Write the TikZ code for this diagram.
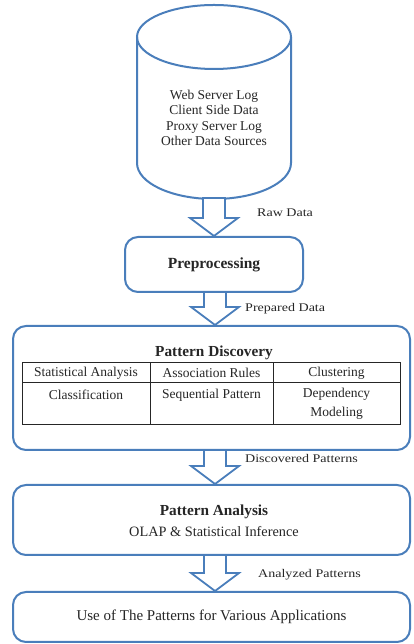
\documentclass[tikz,border=0pt]{standalone}
\usepackage{fontspec}
\setmainfont{Liberation Serif}
\newfontfamily\tagfont[FakeStretch=1.2]{Liberation Serif}
\usetikzlibrary{calc}
\definecolor{edge}{HTML}{4A7EBB}
\definecolor{ink}{HTML}{262626}
\tikzset{
  stage/.style={draw=edge, line width=2pt, rounded corners=13pt, fill=white,
    text=ink, align=center, inner sep=0pt, font=\fontsize{15}{17}\selectfont},
  cell/.style={text=ink, inner sep=0pt, align=center, font=\fontsize{13.5}{15.5}\selectfont},
  heading/.style={text=ink, inner sep=0pt, font=\bfseries\fontsize{15.3}{17}\selectfont},
  flowtag/.style={anchor=west, text=ink, inner sep=0pt, font=\tagfont\fontsize{11.7}{13}\selectfont},
  flowarrow/.style={draw=edge, line width=1.8pt, fill=white, line join=miter},
  grid/.style={draw=ink, line width=1pt},
}
% hollow block arrow: shaft from #1 down to the head, tip at #2
\newcommand\blockarrow[2]{%
  \draw[flowarrow] ($(#1)+(-11,0)$) -- ($(#2)+(-11,18)$) -- ($(#2)+(-24,18)$)
    -- (#2) -- ($(#2)+(24,18)$) -- ($(#2)+(11,18)$) -- ($(#1)+(11,0)$) -- cycle;}
\begin{document}
\begin{tikzpicture}[x=1pt,y=1pt]
\useasboundingbox (0,0) rectangle (413,644);

% data store cylinder
\draw[edge, line width=2pt, fill=white]
  (137,607) -- (137,481) arc[start angle=180, end angle=360, x radius=77pt, y radius=36pt]
  -- (291,607);
\draw[edge, line width=2pt] (214,607) ellipse[x radius=77pt, y radius=32pt];
\node[cell] (src) at (214,526)
  {Web Server Log\\Client Side Data\\Proxy Server Log\\Other Data Sources};
\coordinate (srcbot) at (214,446);

% stages
\node[stage, minimum width=178pt, minimum height=55pt,
  font=\bfseries\fontsize{15.5}{17}\selectfont] (pre) at (214,379.5) {Preprocessing};
\node[stage, minimum width=397pt, minimum height=124pt] (disc) at (211.5,256) {};
\node[heading] (disctitle) at (214,291) {Pattern Discovery};
\node[stage, minimum width=397pt, minimum height=70pt] (ana) at (211.5,124) {};
\node[heading] (anatitle) at (214,132) {Pattern Analysis};
\node[cell, font=\fontsize{14.3}{16}\selectfont] (anasub) at (214,112)
  {OLAP \& Statistical Inference};
\node[stage, minimum width=397pt, minimum height=50pt] (use) at (211.5,27)
  {Use of The Patterns for Various Applications};

% technique table
\draw[grid] (22,281) rectangle (400,219);
\draw[grid] (22,261) -- (400,261);
\draw[grid] (150,281) -- (150,219);
\draw[grid] (273,281) -- (273,219);
\node[cell] (c11) at (86,271) {Statistical Analysis};
\node[cell] (c12) at (211.5,271) {Association Rules};
\node[cell] (c13) at (336.5,271) {Clustering};
\node[cell] (c21) at (86,249) {Classification};
\node[cell] (c22) at (211.5,249) {Sequential Pattern};
\node[cell, anchor=north, font=\fontsize{13.5}{19}\selectfont] (c23) at (336.5,256)
  {Dependency\\Modeling};

% flow arrows
\coordinate (prebot) at (215,352);
\coordinate (discbot) at (215,194);
\coordinate (anabot) at (215,89);
\blockarrow{srcbot}{srcbot |- pre.north}
\blockarrow{prebot}{prebot |- disc.north}
\blockarrow{discbot}{discbot |- ana.north}
\blockarrow{anabot}{anabot |- use.north}

\node[flowtag] (t1) at (257,431) {Raw Data};
\node[flowtag] (t2) at (245,335) {Prepared Data};
\node[flowtag] (t3) at (245,185) {Discovered Patterns};
\node[flowtag] (t4) at (258,69) {Analyzed Patterns};
\end{tikzpicture}
\end{document}
